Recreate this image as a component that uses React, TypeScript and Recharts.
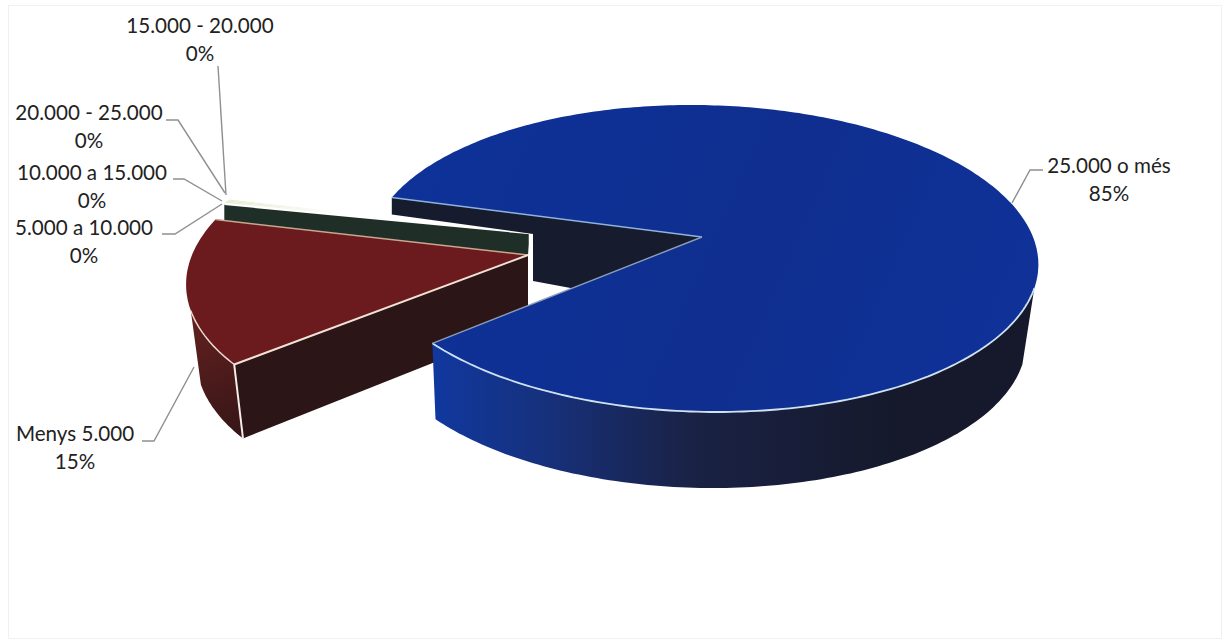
import React from "react";
import { PieChart, Pie } from "recharts";

const categories = ["Menys 5.000", "5.000 a 10.000", "10.000 a 15.000", "15.000 - 20.000", "20.000 - 25.000", "25.000 o més"];
const shares = [14.9, 0.15, 0.15, 0.15, 0.15, 84.5];
const rows = categories.map((name, i) => ({ name, value: shares[i] }));

const P = 0.14;
type Look = { ox: number; oy: number; scale: number; k: number; shear: number; drop: number; shrink: number; nudge: number };
const LOOK: Record<string, Look> = {
  red: { ox: -87, oy: 9, scale: 336 / 331, k: 155, shear: -0.1, drop: 74, shrink: 0.97, nudge: 0 },
  thin: { ox: -85, oy: -13, scale: 325 / 331, k: 128, shear: 0, drop: 16, shrink: 1, nudge: 0 },
  blue: { ox: 87, oy: -9, scale: 1, k: 150.5, shear: 0.085, drop: 76, shrink: 0.975, nudge: -3.6 },
};
const lookOf = (name: string) => (name === categories[0] ? LOOK.red : name === categories[5] ? LOOK.blue : LOOK.thin);

type Pt = { x: number; y: number };
const projector = (props: any) => {
  const l = lookOf(props.name);
  const ax = props.cx + l.ox;
  const ay = props.cy + l.oy;
  const R = props.outerRadius * l.scale;
  const top = (deg: number): Pt => {
    const t = (deg * Math.PI) / 180;
    const s = Math.sin(t);
    const d = 1 + P * s;
    const y = (-l.k * s) / d;
    return { x: ax + (R * Math.cos(t)) / d + l.shear * y, y: ay + y };
  };
  const bottom = (deg: number): Pt => {
    const q = top(deg);
    return { x: ax + (q.x - ax) * l.shrink + l.nudge, y: q.y + l.drop };
  };
  return { apex: { x: ax, y: ay }, top, bottom, l };
};
const arc = (f: (d: number) => Pt, from: number, to: number): Pt[] => {
  const n = Math.max(2, Math.ceil(Math.abs(to - from)));
  return Array.from({ length: n + 1 }, (_, i) => f(from + ((to - from) * i) / n));
};
const path = (pts: Pt[], close = false) =>
  "M" + pts.map((p) => `${p.x.toFixed(1)} ${p.y.toFixed(1)}`).join("L") + (close ? "Z" : "");

const RIGHT_END = -19;
const RED_LEFT_END = 200;

const BackLayer = (props: any) => {
  const { name, startAngle, endAngle } = props;
  const { apex, top } = projector(props);
  if (name === categories[5]) {
    const p1 = top(startAngle);
    const p2 = top(endAngle);
    const t = 130 / (apex.x - p2.x);
    const onEdge = { x: apex.x - 130, y: apex.y + (p2.y - apex.y) * t };
    const wall = [
      apex,
      p1,
      { x: p1.x, y: p1.y + 17 },
      { x: apex.x - 169, y: apex.y - 3 },
      { x: apex.x - 169, y: apex.y + 44 },
      onEdge,
    ];
    return <path d={path(wall, true)} fill="#171b2e" stroke="none" />;
  }
  if (name === categories[0]) return <g />;
  const face = [apex, ...arc(top, startAngle, endAngle)];
  const isFirst = name === categories[1];
  const edge = top(startAngle);
  return (
    <g>
      <defs>
        <linearGradient id="paleTop" gradientUnits="userSpaceOnUse" x1="228" y1="0" x2="345" y2="0">
          <stop offset="0" stopColor="#e6ebcf" />
          <stop offset="1" stopColor="#ffffff" />
        </linearGradient>
      </defs>
      <path d={path(face, true)} fill="url(#paleTop)" stroke="none" />
      {isFirst && (
        <>
          <path
            d={path([apex, edge, { x: edge.x, y: edge.y + 18 }, { x: apex.x - 2, y: apex.y + 22 }], true)}
            fill="#1f2e27"
            stroke="none"
          />
          <path d={path([edge, apex, { x: apex.x, y: apex.y + 20 }])} fill="none" stroke="#ffffff" strokeWidth={2.5} />
        </>
      )}
    </g>
  );
};

const FrontLayer = (props: any) => {
  const { name, startAngle, endAngle } = props;
  const { apex, top, bottom } = projector(props);
  if (name === categories[0]) {
    const p1 = top(endAngle);
    const p2 = top(startAngle);
    const apexLow = { x: apex.x, y: apex.y + 70 };
    return (
      <g>
        <defs>
          <linearGradient id="redSide" gradientUnits="userSpaceOnUse" x1="188" y1="320" x2="240" y2="430">
            <stop offset="0" stopColor="#62201f" />
            <stop offset="1" stopColor="#381617" />
          </linearGradient>
        </defs>
        <path
          d={path([...arc(top, RED_LEFT_END, startAngle), ...arc(bottom, startAngle, RED_LEFT_END)], true)}
          fill="url(#redSide)"
        />
        <path d={path([apex, p2, bottom(startAngle), apexLow], true)} fill="#2c1516" />
        <path d={path([apex, ...arc(top, endAngle, startAngle)], true)} fill="#6b1b1e" />
        <path d={path(arc(top, RED_LEFT_END, startAngle))} fill="none" stroke="#eadbd2" strokeWidth={1.5} />
        <path d={path([apex, p1])} fill="none" stroke="#c9a68f" strokeWidth={1.5} />
        <path d={path([apex, p2])} fill="none" stroke="#f2e2d6" strokeWidth={2} />
        <path d={path([p2, bottom(startAngle)])} fill="none" stroke="#f4efe8" strokeWidth={2} />
      </g>
    );
  }
  if (name === categories[5]) {
    const p1 = top(startAngle);
    const p2 = top(endAngle);
    const rim = arc(top, endAngle, RIGHT_END);
    return (
      <g>
        <defs>
          <linearGradient id="blueSide" gradientUnits="userSpaceOnUse" x1="437" y1="0" x2="900" y2="0">
            <stop offset="0" stopColor="#11389e" />
            <stop offset="0.22" stopColor="#16317e" />
            <stop offset="0.55" stopColor="#1a2245" />
            <stop offset="1" stopColor="#15192b" />
          </linearGradient>
          <linearGradient id="blueTop" gradientUnits="userSpaceOnUse" x1="400" y1="120" x2="1030" y2="400">
            <stop offset="0" stopColor="#0e3299" />
            <stop offset="0.55" stopColor="#0f2e8f" />
            <stop offset="1" stopColor="#0f329a" />
          </linearGradient>
        </defs>
        <path d={path([...rim, ...arc(bottom, RIGHT_END, endAngle)], true)} fill="url(#blueSide)" />
        <path d={path([apex, ...arc(top, startAngle, endAngle)], true)} fill="url(#blueTop)" />
        <path d={path(rim)} fill="none" stroke="#cfe2f2" strokeWidth={1.8} />
        <path d={path([p1, apex])} fill="none" stroke="#8fb2dc" strokeWidth={1.6} />
        <path d={path([apex, p2])} fill="none" stroke="#8a9cb8" strokeWidth={1.4} />
      </g>
    );
  }
  return <g />;
};

type Tag = { x: number; y: number; line: [number, number][] };
const TAGS: Record<string, Tag> = {
  [categories[0]]: { x: 75, y: 441, line: [[142, 441], [154, 441], [194, 367]] },
  [categories[1]]: { x: 84, y: 235, line: [[162, 234], [175, 234], [222, 204]] },
  [categories[2]]: { x: 92, y: 180, line: [[173, 179], [184, 179], [222, 201]] },
  [categories[3]]: { x: 200, y: 33, line: [[218, 66], [226, 195]] },
  [categories[4]]: { x: 89, y: 120, line: [[166, 120], [178, 120], [225, 193]] },
  [categories[5]]: { x: 1109, y: 173, line: [[1043, 170], [1030, 170], [1012, 203]] },
};
const LINE_GAP = 27.5;

const renderTag = (props: any) => {
  const tag = TAGS[props.name];
  if (!tag) return <g />;
  const pct = Math.round((props.percent ?? 0) * 100);
  const font = { fontFamily: "Lato, 'Noto Sans', sans-serif", fontSize: 20.6, fill: "#222222" };
  return (
    <g>
      <polyline points={tag.line.map((p) => p.join(",")).join(" ")} fill="none" stroke="#8f8f8f" strokeWidth={1.4} />
      <text x={tag.x} y={tag.y} textAnchor="middle" {...font}>{props.name}</text>
      <text x={tag.x} y={tag.y + LINE_GAP} textAnchor="middle" {...font}>{pct}%</text>
    </g>
  );
};

export default function App() {
  const pieBase = {
    data: rows,
    dataKey: "value",
    nameKey: "name",
    cx: 615,
    cy: 246,
    innerRadius: 0,
    outerRadius: 331,
    startAngle: 220,
    endAngle: -140,
    stroke: "none",
    isAnimationActive: false,
    labelLine: false,
  };
  return (
    <div style={{ position: "absolute", left: 0, top: 0, width: 1228, height: 642, background: "#ffffff" }}>
      <div
        style={{
          position: "absolute",
          left: 8,
          top: 5,
          width: 1214,
          height: 634,
          border: "1.5px solid #f1f1f1",
          boxSizing: "border-box",
        }}
      />
      <div style={{ position: "absolute", left: 0, top: 0 }}>
        <PieChart width={1228} height={642} margin={{ top: 0, right: 0, bottom: 0, left: 0 }}>
          <Pie {...pieBase} shape={BackLayer} inactiveShape={BackLayer} activeShape={BackLayer} />
          <Pie {...pieBase} shape={FrontLayer} inactiveShape={FrontLayer} activeShape={FrontLayer} label={renderTag} />
        </PieChart>
      </div>
    </div>
  );
}
